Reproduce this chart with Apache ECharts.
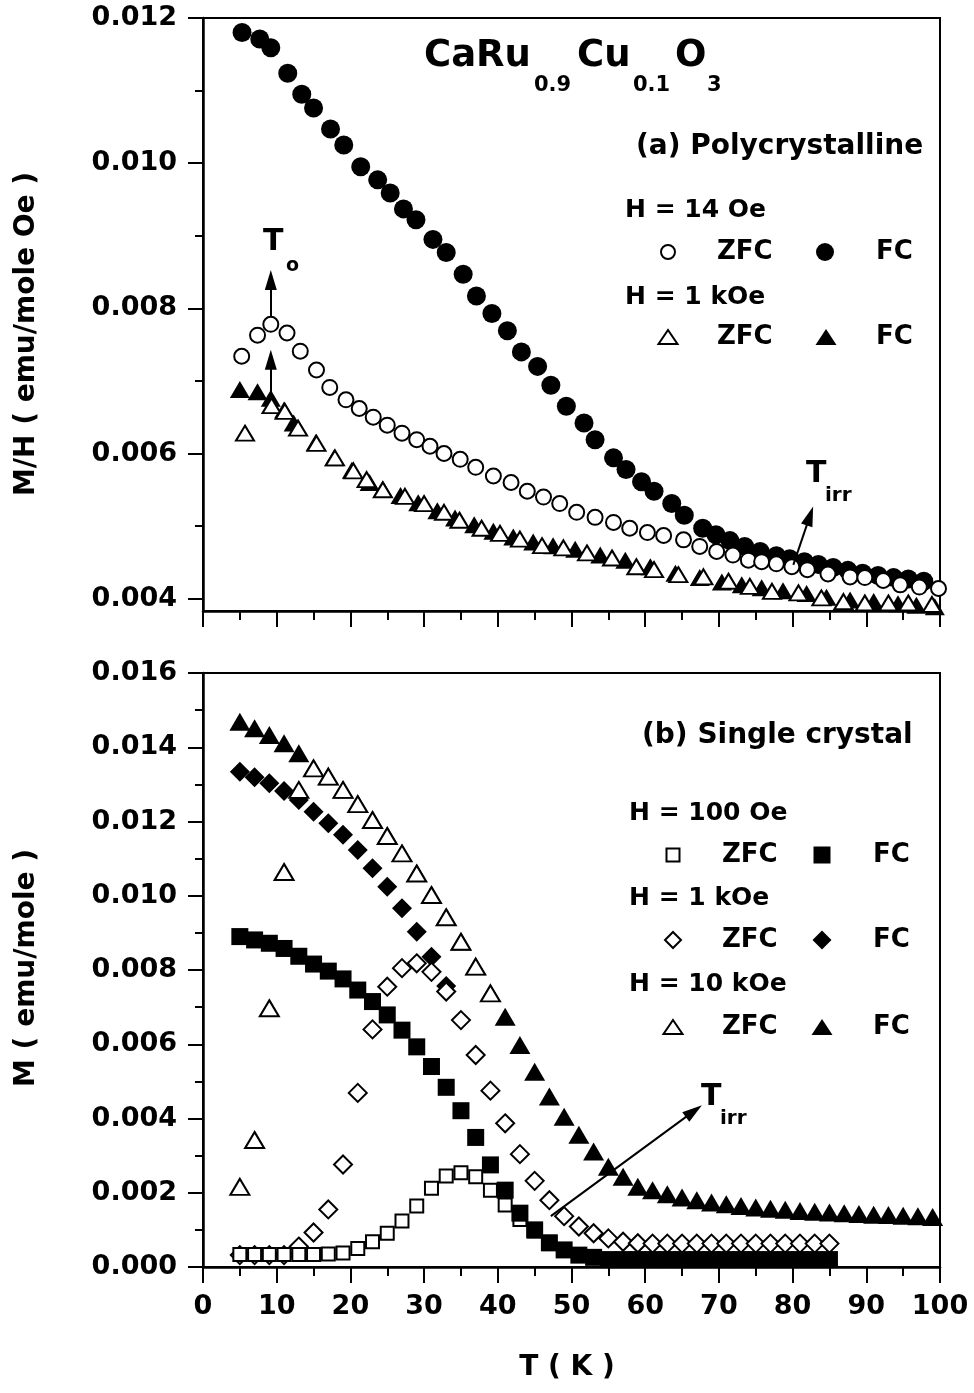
<!DOCTYPE html>
<html>
<head>
<meta charset="utf-8">
<title>CaRu0.9Cu0.1O3 magnetization</title>
<script src="https://cdn.jsdelivr.net/npm/echarts/dist/echarts.min.js"></script>
<style>
  html, body { margin: 0; padding: 0; background: #ffffff; }
  #chart { width: 974px; height: 1393px; }
</style>
</head>
<body>
<div id="chart"></div>
<script>
// ---------- (a) Polycrystalline: M/H (emu/mole Oe) vs T (K) ----------
const polyFc14T = [5.3, 7.7, 9.2, 11.5, 13.4, 15.0, 17.3, 19.1, 21.4, 23.7, 25.4, 27.2, 28.9, 31.2, 33.0, 35.3, 37.1, 39.2, 41.3, 43.2, 45.4, 47.2, 49.3, 51.7, 53.2, 55.7, 57.4, 59.5, 61.2, 63.6, 65.3, 67.8, 69.6, 71.5, 73.5, 75.6, 77.8, 79.6, 81.6, 83.5, 85.5, 87.5, 89.5, 91.6, 93.7, 95.7, 97.8];
const polyFc14 = [0.01180, 0.01171, 0.01159, 0.01124, 0.01095, 0.01076, 0.01047, 0.01025, 0.00995, 0.00977, 0.00959, 0.00937, 0.00922, 0.00895, 0.00877, 0.00847, 0.00817, 0.00793, 0.00769, 0.00740, 0.00720, 0.00694, 0.00665, 0.00642, 0.00619, 0.00594, 0.00578, 0.00561, 0.00548, 0.00531, 0.00515, 0.00497, 0.00488, 0.00480, 0.00472, 0.00465, 0.00459, 0.00455, 0.00451, 0.00447, 0.00443, 0.00439, 0.00435, 0.00432, 0.00429, 0.00427, 0.00424];

const polyZfc14T = [5.25, 7.4, 9.2, 11.4, 13.2, 15.4, 17.2, 19.4, 21.2, 23.1, 25.0, 27.0, 29.0, 30.8, 32.7, 34.9, 37.0, 39.4, 41.8, 44.0, 46.2, 48.4, 50.7, 53.2, 55.7, 57.9, 60.3, 62.5, 65.2, 67.4, 69.7, 71.9, 74.0, 75.8, 77.8, 79.9, 82.0, 84.8, 87.8, 89.8, 92.3, 94.6, 97.2, 99.8];
const polyZfc14 = [0.00734, 0.00763, 0.00778, 0.00766, 0.00741, 0.00715, 0.00691, 0.00674, 0.00662, 0.00650, 0.00639, 0.00628, 0.00619, 0.00610, 0.00600, 0.00592, 0.00581, 0.00569, 0.00560, 0.00548, 0.00540, 0.00531, 0.00519, 0.00512, 0.00505, 0.00497, 0.00491, 0.00487, 0.00481, 0.00472, 0.00465, 0.00460, 0.00453, 0.00451, 0.00448, 0.00444, 0.00440, 0.00434, 0.00430, 0.00429, 0.00425, 0.00419, 0.00416, 0.00414];

const polyFc1kT = [5.0, 7.4, 9.2, 11.0, 12.3, 15.3, 17.8, 20.2, 22.6, 24.4, 26.8, 29.2, 31.8, 34.2, 36.8, 39.4, 42.1, 44.8, 47.5, 50.5, 53.9, 57.3, 60.7, 64.1, 67.4, 70.4, 73.1, 75.8, 78.7, 81.9, 84.6, 87.8, 91.0, 94.3, 96.8, 99.3];
const polyFc1k = [0.00688, 0.00685, 0.00676, 0.00660, 0.00642, 0.00615, 0.00594, 0.00577, 0.00560, 0.00551, 0.00542, 0.00532, 0.00521, 0.00511, 0.00502, 0.00493, 0.00485, 0.00478, 0.00473, 0.00468, 0.00460, 0.00453, 0.00444, 0.00435, 0.00429, 0.00423, 0.00419, 0.00415, 0.00411, 0.00407, 0.00402, 0.00398, 0.00396, 0.00393, 0.00391, 0.00389];

const polyZfc1kT = [5.7, 9.3, 11.1, 12.9, 15.4, 17.9, 20.4, 22.2, 24.4, 27.4, 30.0, 32.7, 34.8, 37.8, 40.3, 43.0, 46.0, 48.9, 52.1, 55.5, 58.8, 61.2, 64.5, 67.9, 71.3, 74.2, 77.2, 80.8, 83.9, 86.9, 89.8, 93.0, 95.7, 98.9];
const polyZfc1k = [0.00628, 0.00666, 0.00658, 0.00635, 0.00614, 0.00594, 0.00576, 0.00564, 0.00550, 0.00541, 0.00531, 0.00519, 0.00508, 0.00497, 0.00490, 0.00482, 0.00473, 0.00470, 0.00463, 0.00456, 0.00444, 0.00440, 0.00433, 0.00430, 0.00424, 0.00417, 0.00410, 0.00408, 0.00401, 0.00396, 0.00394, 0.00394, 0.00394, 0.00392];

// ---------- (b) Single crystal: M (emu/mole) vs T (K) ----------
const scFc10kT = [5, 7, 9, 11, 13, 15, 17, 19, 21, 23, 25, 27, 29, 31, 33, 35, 37, 39, 41, 43, 45, 47, 49, 51, 53, 55, 57, 59, 61, 63, 65, 67, 69, 71, 73, 75, 77, 79, 81, 83, 85, 87, 89, 91, 93, 95, 97, 99];
const scFc10k = [0.01469, 0.01451, 0.01433, 0.01411, 0.01384, 0.01345, 0.01322, 0.01286, 0.01248, 0.01205, 0.01162, 0.01115, 0.01061, 0.01003, 0.00943, 0.00877, 0.00810, 0.00738, 0.00674, 0.00598, 0.00526, 0.00459, 0.00405, 0.00356, 0.00311, 0.00270, 0.00243, 0.00216, 0.00207, 0.00196, 0.00187, 0.00180, 0.00174, 0.00169, 0.00164, 0.00160, 0.00157, 0.00154, 0.00151, 0.00149, 0.00147, 0.00145, 0.00143, 0.00141, 0.00140, 0.00138, 0.00137, 0.00135];

const scZfc10kT = [5, 7, 9, 11, 13, 15, 17, 19, 21, 23, 25, 27, 29, 31, 33, 35, 37, 39];
const scZfc10k = [0.00216, 0.00342, 0.00697, 0.01064, 0.01285, 0.01343, 0.01321, 0.01285, 0.01247, 0.01204, 0.01161, 0.01114, 0.01060, 0.01002, 0.00942, 0.00876, 0.00809, 0.00737];

const scFc1kT = [5, 7, 9, 11, 13, 15, 17, 19, 21, 23, 25, 27, 29, 31, 33];
const scFc1k = [0.01334, 0.01319, 0.01303, 0.01282, 0.01258, 0.01226, 0.01195, 0.01164, 0.01123, 0.01074, 0.01024, 0.00966, 0.00903, 0.00836, 0.00757];

const scZfc1kT = [5, 7, 9, 11, 13, 15, 17, 19, 21, 23, 25, 27, 29, 31, 33, 35, 37, 39, 41, 43, 45, 47, 49, 51, 53, 55, 57, 59, 61, 63, 65, 67, 69, 71, 73, 75, 77, 79, 81, 83, 85];
const scZfc1k = [0.00032, 0.00032, 0.00032, 0.00032, 0.00055, 0.00093, 0.00155, 0.00276, 0.00469, 0.00640, 0.00755, 0.00805, 0.00818, 0.00795, 0.00742, 0.00665, 0.00571, 0.00475, 0.00387, 0.00304, 0.00232, 0.00180, 0.00137, 0.00109, 0.00091, 0.00077, 0.00068, 0.00064, 0.00063, 0.00063, 0.00063, 0.00063, 0.00063, 0.00063, 0.00063, 0.00063, 0.00063, 0.00063, 0.00063, 0.00063, 0.00063];

const scZfc100T = [5, 7, 9, 11, 13, 15, 17, 19, 21, 23, 25, 27, 29, 31, 33, 35, 37, 39, 41, 43, 45, 47, 49];
const scZfc100 = [0.00034, 0.00034, 0.00034, 0.00034, 0.00034, 0.00034, 0.00035, 0.00038, 0.00050, 0.00068, 0.00091, 0.00124, 0.00164, 0.00212, 0.00245, 0.00254, 0.00243, 0.00207, 0.00167, 0.00128, 0.00097, 0.00067, 0.00046];

const scFc100T = [5, 7, 9, 11, 13, 15, 17, 19, 21, 23, 25, 27, 29, 31, 33, 35, 37, 39, 41, 43, 45, 47, 49, 51, 53, 55, 57, 59, 61, 63, 65, 67, 69, 71, 73, 75, 77, 79, 81, 83, 85];
const scFc100 = [0.00890, 0.00881, 0.00872, 0.00858, 0.00837, 0.00816, 0.00797, 0.00776, 0.00746, 0.00715, 0.00679, 0.00638, 0.00593, 0.00540, 0.00484, 0.00421, 0.00349, 0.00275, 0.00207, 0.00145, 0.00100, 0.00065, 0.00046, 0.00032, 0.00026, 0.00020, 0.00020, 0.00020, 0.00020, 0.00020, 0.00020, 0.00020, 0.00020, 0.00020, 0.00020, 0.00020, 0.00020, 0.00020, 0.00020, 0.00020, 0.00020];

// ---------- axis ticks ----------
const topMajorTicks = [0.004, 0.006, 0.008, 0.010, 0.012];
const topMinorTicks = [0.005, 0.007, 0.009, 0.011];

// ---------- annotation arrows [T, value] tail -> head ----------
const arrowsTop = [
  [[9.2, 0.007895], [9.2, 0.008390]],
  [[9.2, 0.006835], [9.2, 0.007290]],
  [[80.1, 0.004466], [82.35, 0.005140]]
];
const arrowsBottom = [
  [[47.2, 0.00137], [66.6, 0.00420]]
];

const FONT = 'DejaVu Sans';
const pair = (xs, ys) => xs.map((x, i) => [x, ys[i]]);

function scatter(name, grid, xs, ys, symbol, size, filled, z) {
  return {
    name: name,
    type: 'scatter',
    xAxisIndex: grid,
    yAxisIndex: grid === 0 ? 0 : 2,
    data: pair(xs, ys),
    symbol: symbol,
    symbolSize: size,
    z: z,
    silent: true,
    clip: false,
    itemStyle: filled
      ? { color: '#000', borderWidth: 0, opacity: 1 }
      : { color: '#fff', borderColor: '#000', borderWidth: 2, opacity: 1 },
    emphasis: { disabled: true }
  };
}

// arrow lines with a slim triangular head at the far end
const HEAD = [12, 20];
function arrowMarks(list) {
  return {
    silent: true,
    symbol: ['none', 'triangle'],
    symbolSize: HEAD,
    label: { show: false },
    lineStyle: { color: '#000', width: 2, type: 'solid', opacity: 1 },
    emphasis: { disabled: true },
    data: list.map(a => [
      { coord: a[0], symbol: 'none', symbolSize: HEAD },
      { coord: a[1], symbol: 'triangle', symbolSize: HEAD }
    ])
  };
}

function legendItem(seriesName, iconCx, rowCy, icon, w, h, filled, label, textLeft) {
  const lineH = 26;
  const boxH = Math.max(h, lineH);
  const iconLeft = iconCx - w / 2;
  return {
    show: true,
    selectedMode: false,
    left: iconLeft,
    top: rowCy - boxH / 2,
    padding: 0,
    itemGap: 0,
    itemWidth: w,
    itemHeight: h,
    icon: icon,
    data: [seriesName],
    formatter: () => label,
    itemStyle: filled
      ? { color: '#000', borderWidth: 0 }
      : { color: '#fff', borderColor: '#000', borderWidth: 2 },
    textStyle: {
      fontFamily: FONT, fontWeight: 'bold', fontSize: 26, color: '#000',
      padding: [0, 0, 0, textLeft - (iconLeft + w + 5)]
    }
  };
}

function text(x, y, str, size, align) {
  return {
    type: 'text', x: x, y: y, z: 100, silent: true,
    style: {
      text: str, fill: '#000',
      font: 'bold ' + size + 'px "' + FONT + '"',
      align: align || 'left', verticalAlign: 'middle'
    }
  };
}

function vtext(x, y, str, size) {
  const t = text(x, y, str, size, 'center');
  t.rotation = Math.PI / 2;
  return t;
}

const axisLineStyle = { color: '#000', width: 2.5 };
const tickStyle = { color: '#000', width: 2 };
const tickLabel = { fontFamily: FONT, fontWeight: 'bold', fontSize: 27, color: '#000' };

const chart = echarts.init(document.getElementById('chart'), null, { renderer: 'canvas' });

const option = {
  animation: false,
  backgroundColor: '#ffffff',
  grid: [
    { left: 203, top: 18, width: 737, height: 593, show: true, borderColor: '#000', borderWidth: 2, backgroundColor: 'transparent' },
    { left: 203, top: 673, width: 737, height: 594, show: true, borderColor: '#000', borderWidth: 2, backgroundColor: 'transparent' }
  ],
  xAxis: [
    {
      gridIndex: 0, type: 'value', min: 0, max: 100, interval: 10,
      axisLine: { show: true, onZero: false, lineStyle: axisLineStyle },
      axisTick: { show: true, inside: false, length: 16, lineStyle: tickStyle },
      minorTick: { show: true, splitNumber: 2, length: 9, lineStyle: tickStyle },
      axisLabel: { show: false },
      splitLine: { show: false }, minorSplitLine: { show: false }
    },
    {
      gridIndex: 1, type: 'value', min: 0, max: 100, interval: 10,
      axisLine: { show: true, onZero: false, lineStyle: axisLineStyle },
      axisTick: { show: true, inside: false, length: 16, lineStyle: tickStyle },
      minorTick: { show: true, splitNumber: 2, length: 9, lineStyle: tickStyle },
      axisLabel: Object.assign({ show: true, margin: 26 }, tickLabel),
      splitLine: { show: false }, minorSplitLine: { show: false }
    }
  ],
  yAxis: [
    {
      gridIndex: 0, type: 'value', position: 'left', min: 0.00383, max: 0.012,
      axisLine: { show: true, onZero: false, lineStyle: axisLineStyle },
      axisTick: { show: true, inside: false, length: 15, lineStyle: tickStyle, customValues: topMajorTicks },
      axisLabel: Object.assign({ show: true, margin: 26, customValues: topMajorTicks, formatter: v => v.toFixed(3) }, tickLabel),
      splitLine: { show: false }
    },
    {
      gridIndex: 0, type: 'value', position: 'left', offset: 0, min: 0.00383, max: 0.012,
      axisLine: { show: false },
      axisTick: { show: true, inside: false, length: 8, lineStyle: tickStyle, customValues: topMinorTicks },
      axisLabel: { show: false },
      splitLine: { show: false }
    },
    {
      gridIndex: 1, type: 'value', position: 'left', min: 0, max: 0.016, interval: 0.002,
      axisLine: { show: true, onZero: false, lineStyle: axisLineStyle },
      axisTick: { show: true, inside: false, length: 15, lineStyle: tickStyle },
      minorTick: { show: true, splitNumber: 2, length: 8, lineStyle: tickStyle },
      axisLabel: Object.assign({ show: true, margin: 26, formatter: v => v.toFixed(3) }, tickLabel),
      splitLine: { show: false }, minorSplitLine: { show: false }
    }
  ],
  series: [
    // panel (a)
    scatter('FC 14 Oe', 0, polyFc14T, polyFc14, 'circle', 19, true, 2),
    scatter('ZFC 14 Oe', 0, polyZfc14T, polyZfc14, 'circle', 15, false, 3),
    scatter('FC 1 kOe (a)', 0, polyFc1kT, polyFc1k, 'triangle', [20, 17], true, 4),
    Object.assign(scatter('ZFC 1 kOe (a)', 0, polyZfc1kT, polyZfc1k, 'triangle', [18, 15], false, 5),
      { markLine: arrowMarks(arrowsTop) }),
    // panel (b)
    scatter('FC 1 kOe (b)', 1, scFc1kT, scFc1k, 'diamond', [20, 20], true, 2),
    scatter('ZFC 1 kOe (b)', 1, scZfc1kT, scZfc1k, 'diamond', [18, 18], false, 3),
    scatter('ZFC 100 Oe', 1, scZfc100T, scZfc100, 'rect', 13, false, 4),
    scatter('FC 100 Oe', 1, scFc100T, scFc100, 'rect', 17, true, 5),
    scatter('FC 10 kOe', 1, scFc10kT, scFc10k, 'triangle', [21, 18], true, 6),
    Object.assign(scatter('ZFC 10 kOe', 1, scZfc10kT, scZfc10k, 'triangle', [19, 16], false, 7),
      { markLine: arrowMarks(arrowsBottom) })
  ],
  legend: [
    legendItem('ZFC 14 Oe', 667, 252, 'circle', 14, 14, false, 'ZFC', 716),
    legendItem('FC 14 Oe', 825, 252, 'circle', 18, 18, true, 'FC', 876),
    legendItem('ZFC 1 kOe (a)', 667, 337, 'triangle', 19, 14, false, 'ZFC', 716),
    legendItem('FC 1 kOe (a)', 826, 337, 'triangle', 21, 16, true, 'FC', 876),
    legendItem('ZFC 100 Oe', 672, 855, 'rect', 13, 13, false, 'ZFC', 721),
    legendItem('FC 100 Oe', 822, 855, 'rect', 17, 17, true, 'FC', 873),
    legendItem('ZFC 1 kOe (b)', 672, 940, 'diamond', 16, 16, false, 'ZFC', 721),
    legendItem('FC 1 kOe (b)', 822, 940, 'diamond', 19, 19, true, 'FC', 873),
    legendItem('ZFC 10 kOe', 672, 1027, 'triangle', 19, 14, false, 'ZFC', 721),
    legendItem('FC 10 kOe', 822, 1027, 'triangle', 21, 16, true, 'FC', 873)
  ],
  graphic: [
    // compound formula
    text(424, 56, 'CaRu', 37),
    text(534, 86, '0.9', 21),
    text(577, 56, 'Cu', 37),
    text(633, 86, '0.1', 21),
    text(675, 56, 'O', 37),
    text(707, 86, '3', 21),
    // panel labels
    text(636, 147, '(a) Polycrystalline', 28),
    text(642, 736, '(b) Single crystal', 28),
    // field headers
    text(625, 210, 'H = 14 Oe', 25),
    text(625, 297, 'H = 1 kOe', 25),
    text(629, 813, 'H = 100 Oe', 25),
    text(629, 898, 'H = 1 kOe', 25),
    text(629, 984, 'H = 10 kOe', 25),
    // characteristic temperatures
    text(263, 242, 'T', 30),
    text(286, 266, 'o', 19),
    text(806, 474, 'T', 30),
    text(825, 496, 'irr', 20),
    text(701, 1097, 'T', 30),
    text(720, 1119, 'irr', 20),
    // axis titles
    text(567, 1368, 'T ( K )', 28, 'center'),
    vtext(27, 334, 'M/H ( emu/mole Oe )', 28),
    vtext(27, 968, 'M ( emu/mole )', 28)
  ]
};

chart.setOption(option);
</script>
</body>
</html>
